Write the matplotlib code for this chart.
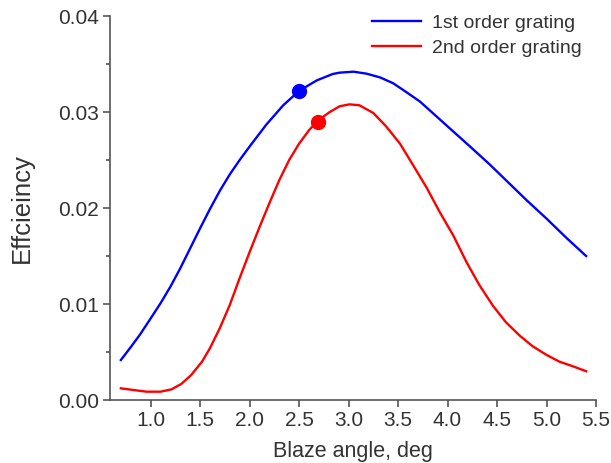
import matplotlib.pyplot as plt
from matplotlib.ticker import MultipleLocator

plt.rcParams['font.family'] = ['Liberation Sans', 'DejaVu Sans']

# Blaze angle (deg) and efficiency for both grating orders
angle_1st = [0.70, 0.79, 0.89, 0.99, 1.10, 1.20, 1.30, 1.40, 1.50, 1.60,
             1.70, 1.80, 1.90, 2.00, 2.17, 2.34, 2.50, 2.68, 2.84, 2.91,
             3.05, 3.18, 3.32, 3.45, 3.58, 3.72, 3.85, 3.99, 4.12, 4.26,
             4.43, 4.59, 4.80, 5.00, 5.20, 5.40]
eff_1st = [0.00417, 0.00538, 0.00677, 0.00833, 0.01007, 0.0118, 0.01372,
           0.0158, 0.01788, 0.0199, 0.0218, 0.0235, 0.0250, 0.0264, 0.0287,
           0.0307, 0.0322, 0.0333, 0.03396, 0.0341, 0.0342, 0.0340, 0.0336,
           0.0330, 0.0321, 0.0311, 0.0299, 0.0286, 0.0274, 0.0261, 0.0245,
           0.0229, 0.0208, 0.0189, 0.0169, 0.0150]

angle_2nd = [0.70, 0.83, 0.96, 1.10, 1.21, 1.31, 1.41, 1.52, 1.60, 1.70,
             1.80, 1.90, 2.00, 2.10, 2.20, 2.30, 2.40, 2.50, 2.60, 2.69,
             2.81, 2.91, 3.01, 3.11, 3.25, 3.38, 3.52, 3.65, 3.79, 3.92,
             4.06, 4.19, 4.32, 4.46, 4.59, 4.73, 4.86, 5.00, 5.13, 5.27,
             5.40]
eff_2nd = [0.00122, 0.00104, 0.00087, 0.00087, 0.00111, 0.00167, 0.0026,
           0.0040, 0.0054, 0.0075, 0.0099, 0.0127, 0.0154, 0.0180, 0.0205,
           0.0229, 0.0250, 0.0267, 0.0281, 0.0291, 0.0300, 0.0306, 0.0308,
           0.0307, 0.0299, 0.0285, 0.0267, 0.0245, 0.0221, 0.0196, 0.0171,
           0.0144, 0.0120, 0.0098, 0.0081, 0.0067, 0.0056, 0.0047, 0.0040,
           0.0035, 0.0030]

# highlighted operating points
pt_1st = (2.5, 0.0322)
pt_2nd = (2.69, 0.0290)

fig = plt.figure(figsize=(6.11, 4.63), dpi=100)
ax = fig.add_axes([0.18, 0.136, 0.7955, 0.8294])

ax.plot(angle_1st, eff_1st, color='#0000ff', lw=1.7, label='1st order grating',
        solid_joinstyle='round')
ax.plot(angle_2nd, eff_2nd, color='#ff0000', lw=1.7, label='2nd order grating',
        solid_joinstyle='round')
ax.plot(*pt_1st, 'o', color='#0000ff', ms=10)
ax.plot(*pt_2nd, 'o', color='#ff0000', ms=10)

ax.set_xlim(0.59, 5.5)
ax.set_ylim(0, 0.04)
ax.xaxis.set_major_locator(MultipleLocator(0.5))
ax.yaxis.set_major_locator(MultipleLocator(0.01))
ax.yaxis.set_minor_locator(MultipleLocator(0.005))
ax.xaxis.set_major_formatter(plt.FormatStrFormatter('%.1f'))
ax.yaxis.set_major_formatter(plt.FormatStrFormatter('%.2f'))

for side in ['top', 'right']:
    ax.spines[side].set_visible(False)
for side in ['left', 'bottom']:
    ax.spines[side].set_color('#555555')
    ax.spines[side].set_linewidth(1.2)

ax.tick_params(which='both', direction='out', color='#555555', width=1.2,
               labelsize=15, labelcolor='#333333')
ax.tick_params(which='major', length=5, pad=3)
ax.tick_params(which='minor', length=2.7)

ax.set_xlabel('Blaze angle, deg', fontsize=15.5, color='#333333', labelpad=8)
ax.set_ylabel('Effcieincy', fontsize=18.5, color='#333333', labelpad=17)

ax.legend(loc='upper right', frameon=False, fontsize=14, handlelength=2.5,
          handletextpad=0.6, borderpad=0, borderaxespad=0, labelspacing=0.4,
          labelcolor='#333333', bbox_to_anchor=(582 / 611, 1 - 14 / 463),
          bbox_transform=fig.transFigure)

fig.savefig('out.png', dpi=100)
